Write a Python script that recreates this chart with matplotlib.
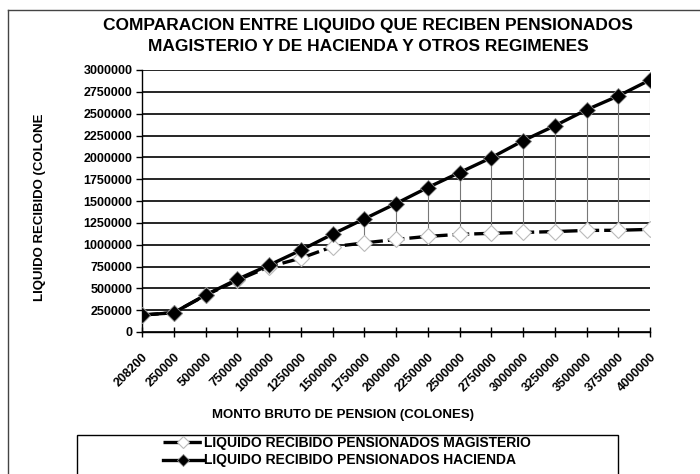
import matplotlib
matplotlib.use("Agg")
import matplotlib.pyplot as plt
from matplotlib.lines import Line2D
from matplotlib.patches import Rectangle
import numpy as np

categories = ["208200", "250000", "500000", "750000", "1000000", "1250000", "1500000",
              "1750000", "2000000", "2250000", "2500000", "2750000", "3000000",
              "3250000", "3500000", "3750000", "4000000"]
magisterio = [194000, 221000, 420000, 592000, 747000, 845000, 976000, 1020000, 1060000,
              1095000, 1118000, 1130000, 1140000, 1150000, 1163000, 1165000, 1175000]
hacienda = [194000, 221000, 424000, 603000, 765000, 936000, 1120000, 1295000, 1471000,
            1654000, 1825000, 1996000, 2190000, 2361000, 2544000, 2703000, 2886000]
yticks = list(range(0, 3000001, 250000))

title = "COMPARACION ENTRE LIQUIDO QUE RECIBEN PENSIONADOS\nMAGISTERIO Y DE HACIENDA Y OTROS REGIMENES"
xlabel = "MONTO BRUTO DE PENSION (COLONES)"
ylabel = "LIQUIDO RECIBIDO (COLONE"
leg_mag = "LIQUIDO RECIBIDO PENSIONADOS MAGISTERIO"
leg_hac = "LIQUIDO RECIBIDO PENSIONADOS HACIENDA"

narrow = ["Liberation Sans Narrow", "Liberation Sans", "DejaVu Sans"]
arial = ["Liberation Sans", "DejaVu Sans"]

W, H = 700, 474
fig = plt.figure(figsize=(W / 100, H / 100), dpi=100)
fig.patch.set_facecolor("white")

ax = fig.add_axes([142 / W, 1 - 332 / H, (650 - 142) / W, (332 - 70) / H])
x = np.arange(len(categories))

# drop lines (high-low)
ax.vlines(x, magisterio, hacienda, colors="#777777", linewidth=0.8, zorder=2)
ax.plot(x, magisterio, color="black", linewidth=2.4, linestyle=(0, (5, 1.5)),
        marker="D", markersize=8, markerfacecolor="white", markeredgecolor="#bbbbbb",
        markeredgewidth=0.8, zorder=3, label=leg_mag)
ax.plot(x, hacienda, color="black", linewidth=2.4, marker="D", markersize=8,
        markerfacecolor="black", markeredgecolor="#888888", markeredgewidth=0.6,
        zorder=4, label=leg_hac)

ax.set_xlim(0, len(categories) - 1)
ax.set_ylim(0, 3000000)
ax.set_yticks(yticks)
ax.set_yticklabels([str(v) for v in yticks], fontfamily=arial, fontweight="bold", fontsize=9)
ax.set_xticks(x)
ax.set_xticklabels(categories, rotation=45, ha="right", va="top", rotation_mode="anchor",
                   fontfamily=narrow, fontweight="bold", fontsize=9)
ax.yaxis.grid(True, color="black", linewidth=1.2)
ax.set_axisbelow(True)
for s in ["top", "right"]:
    ax.spines[s].set_visible(False)
ax.spines["left"].set_linewidth(1.0)
ax.spines["bottom"].set_linewidth(1.0)
ax.tick_params(axis="x", direction="inout", length=7, width=1, pad=10)
ax.tick_params(axis="y", direction="out", length=4, width=1, pad=3)

fig.text(368 / W, 1 - 36 / H, title, ha="center", va="center", fontfamily=narrow,
         fontweight="bold", fontsize=12.5, linespacing=1.45)
fig.text(40 / W, 1 - 207 / H, ylabel, rotation=90, ha="center", va="center",
         fontfamily=arial, fontweight="bold", fontsize=9.5)
fig.text(343 / W, 1 - 415 / H, xlabel, ha="center", va="center", fontfamily=narrow,
         fontweight="bold", fontsize=9.5)

# outer chart border
fig.add_artist(Line2D([8 / W, 8 / W], [0, 1 - 10 / H], transform=fig.transFigure,
                      color="#444444", linewidth=1.0))
fig.add_artist(Line2D([8 / W, 1], [1 - 10 / H, 1 - 10 / H], transform=fig.transFigure,
                      color="#444444", linewidth=1.0))

# legend frame
fig.add_artist(Rectangle((77 / W, -0.05), (618 - 77) / W, 0.05 + (474 - 435) / H,
                         transform=fig.transFigure, facecolor="white", edgecolor="black",
                         linewidth=1.0, zorder=1))
leg = fig.legend(loc="upper left", bbox_to_anchor=(163 / W, 1 - 436 / H),
                 prop={"family": narrow, "weight": "bold", "size": 10},
                 frameon=False, handlelength=2.9, handletextpad=0.05, borderpad=0,
                 labelspacing=0.25, borderaxespad=0)
leg.set_zorder(5)
for h in leg.legend_handles:
    h.set_markersize(6)

fig.savefig("out.png", dpi=100)
